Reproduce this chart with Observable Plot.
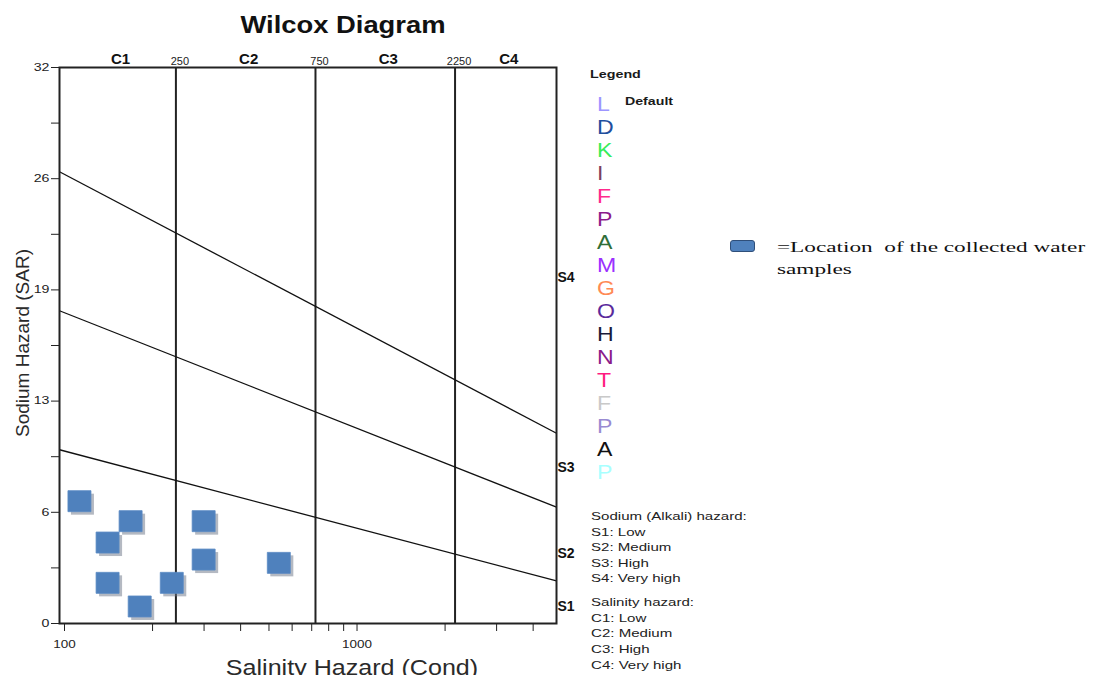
<!DOCTYPE html>
<html><head><meta charset="utf-8">
<script src="https://cdn.jsdelivr.net/npm/d3@7"></script>
<script src="https://cdn.jsdelivr.net/npm/@observablehq/plot@0.6"></script>
<style>
body{margin:0;background:#fff}
#wrap{position:relative;width:1097px;height:675px;overflow:hidden;font-family:"Liberation Sans",Arial,sans-serif;color:#222;background:#fff}
#wrap svg{position:absolute;left:0;top:0}
.t{position:absolute;line-height:1;white-space:pre}
</style>
</head><body><div id="wrap"></div>
<script>
// ---- data ----
const sampleEC = [117, 175, 146, 311, 311, 562, 146, 242, 188];
const sampleSAR = [7.04, 5.89, 4.66, 5.89, 3.68, 3.49, 2.34, 2.34, 0.98];

const xDomain = [100, 5000];
const yDomain = [0, 32];

const cBoundaries = [250, 750, 2250];
const cZoneNames = ["C1", "C2", "C3", "C4"];
const cZoneMid = [158, 433, 1300, 3354];

const sLineNames = ["S1/S2", "S2/S3", "S3/S4"];
const sLineLeft = [10.0, 18.0, 26.0];
const sLineRight = [2.45, 6.7, 10.95];

const sZoneNames = ["S1", "S2", "S3", "S4"];
const sZoneY = [1.0, 4.0, 9.0, 19.9];

const xTickValues = [100, 200, 300, 400, 500, 600, 700, 800, 900, 1000, 2000, 3000, 4000];
const xTickText = ["100", "", "", "", "", "", "", "", "", "1000", "", "", ""];
const yTickValues = [0, 3.2, 6.4, 9.6, 12.8, 16, 19.2, 22.4, 25.6, 28.8, 32];
const yTickText = ["0", "", "6", "", "13", "", "19", "", "26", "", "32"];

const legendLetters = ["L","D","K","I","F","P","A","M","G","O","H","N","T","F","P","A","P"];
const legendColors = ["#9d95ff","#1f4f9e","#35ec5a","#7c3f60","#ff2a8c","#8c1c8c","#2f6e38","#9b30ff","#ff8a55","#5a2a9c","#1a1a3a","#8a1a8a","#ff1a80","#c9c9c9","#998bd2","#111111","#a8ffff"];

const sodiumLines = ["Sodium (Alkali) hazard:", "S1: Low", "S2: Medium", "S3: High", "S4: Very high"];
const salinityLines = ["Salinity hazard:", "C1: Low", "C2: Medium", "C3: High", "C4: Very high"];

// ---- derived tables ----
const samples = sampleEC.map((ec, i) => ({ec, sar: sampleSAR[i]}));
const cZones = cZoneNames.map((name, i) => ({name, mid: cZoneMid[i]}));
const sLines = sLineNames.map((name, i) => ({name, left: sLineLeft[i], right: sLineRight[i]}));
const sZones = sZoneNames.map((name, i) => ({name, y: sZoneY[i]}));
const xLabelMap = new Map(xTickValues.map((v, i) => [v, xTickText[i]]));
const yLabelMap = new Map(yTickValues.map((v, i) => [v, yTickText[i]]));

const rectSymbol = {draw(ctx) { ctx.rect(-11.5, -10.5, 23, 21); }};

const svg = Plot.plot({
  width: 1097, height: 675,
  marginLeft: 59, marginRight: 541, marginTop: 67, marginBottom: 52,
  style: {fontFamily: "Liberation Sans, Arial, sans-serif", color: "#222", background: "transparent"},
  x: {type: "log", domain: xDomain},
  y: {domain: yDomain},
  marks: [
    Plot.ruleX(cBoundaries, {x: d => d, stroke: "#222", strokeWidth: 2}),
    Plot.link(sLines, {x1: () => xDomain[0], x2: () => xDomain[1], y1: "left", y2: "right", stroke: "#111", strokeWidth: 1.3}),
    Plot.frame({stroke: "#222", strokeWidth: 2}),
    Plot.axisX({ticks: xTickValues, tickFormat: d => xLabelMap.get(d), tickSize: 8, tickPadding: 9, dx: 5, fontSize: 10, label: null}),
    Plot.axisY({ticks: yTickValues, tickFormat: d => yLabelMap.get(d), tickSize: 8, tickPadding: 2, fontSize: 10.5, label: null}),
    Plot.dot(samples, {x: "ec", y: "sar", symbol: rectSymbol, r: 12, fill: "#6a7486", fillOpacity: 0.5, stroke: "none", dx: 3, dy: 3, ariaLabel: "shadow"}),
    Plot.dot(samples, {x: "ec", y: "sar", symbol: rectSymbol, r: 12, fill: "#4f81bd", stroke: "#5a8ac4", strokeWidth: 0.8}),
    Plot.text(cZones, {x: "mid", text: "name", frameAnchor: "top", dy: -14, dx: 3, fontSize: 15, fontWeight: "bold", fill: "#111", ariaLabel: "czone"}),
    Plot.text(cBoundaries, {x: d => d, text: d => String(d), frameAnchor: "top", dy: -10, dx: 4, fontSize: 11, fill: "#222", ariaLabel: "cbound"}),
    Plot.text(sZones, {y: "y", text: "name", frameAnchor: "right", dx: 18, fontSize: 14, fontWeight: "bold", fill: "#111"})
  ]
});

const wrap = document.getElementById("wrap");
wrap.appendChild(svg);

function stretch(sel, k) {
  svg.querySelectorAll(sel).forEach(t => t.setAttribute("transform", (t.getAttribute("transform") || "") + ` scale(${k},1)`));
}
stretch('g[aria-label="x-axis tick label"] text', 1.35);
stretch('g[aria-label="y-axis tick label"] text', 1.35);
stretch('g[aria-label="czone"] text', 1.15);
stretch('g[aria-label="cbound"] text', 1.15);
const sh = svg.querySelector('g[aria-label="shadow"]');
if (sh) sh.style.filter = "blur(1px)";

function addText(txt, x, y, o = {}) {
  const d = document.createElement("div");
  d.className = "t";
  d.textContent = txt;
  d.style.left = x + "px";
  d.style.top = y + "px";
  d.style.fontSize = (o.size || 11) + "px";
  d.style.fontWeight = o.weight || "normal";
  d.style.color = o.color || "#222";
  if (o.family) d.style.fontFamily = o.family;
  const sx = o.sx || 1;
  if (o.rotate) {
    d.style.transformOrigin = "50% 50%";
    d.style.transform = `translate(-50%,-50%) rotate(${o.rotate}deg)`;
  } else if (o.anchor === "middle") {
    d.style.transformOrigin = "50% 50%";
    d.style.transform = `translate(-50%,-50%) scaleX(${sx})`;
  } else {
    d.style.transformOrigin = "0 50%";
    d.style.transform = `translateY(-50%) scaleX(${sx})`;
  }
  wrap.appendChild(d);
  return d;
}

// titles
addText("Wilcox Diagram", 343, 24.5, {size: 23, weight: "bold", sx: 1.19, anchor: "middle", color: "#111"});
addText("Sodium Hazard (SAR)", 22, 343, {size: 19, rotate: -90, color: "#2a2a2a"});
addText("Salinity Hazard (Cond)", 351.5, 668, {size: 22, sx: 1.14, anchor: "middle", color: "#2a2a2a"});

// legend
addText("Legend", 590, 74, {size: 11, weight: "bold", sx: 1.3, color: "#1a1a1a"});
addText("Default", 625, 100.5, {size: 10.5, weight: "bold", sx: 1.35, color: "#1a1a1a"});
const letterY0 = 102.5, letterStep = 23.0;
legendLetters.forEach((L, i) => {
  addText(L, 597, letterY0 + i * letterStep, {size: 21, sx: 1.1, color: legendColors[i]});
});
sodiumLines.forEach((s, i) => addText(s, 591, 517 + i * 15.5, {size: 11.5, sx: 1.31, color: "#222"}));
salinityLines.forEach((s, i) => addText(s, 591, 603 + i * 15.7, {size: 11.5, sx: 1.31, color: "#222"}));

// sample legend
const box = document.createElement("div");
box.style.cssText = "position:absolute;left:730px;top:240px;width:23px;height:10px;background:#4f81bd;border:1.5px solid #2f4f7a;border-radius:3px";
wrap.appendChild(box);
addText("=Location  of the collected water", 777, 246.5, {size: 15, sx: 1.55, family: '"Liberation Serif","Times New Roman",serif', color: "#111"});
addText("samples", 777, 269, {size: 15, sx: 1.55, family: '"Liberation Serif","Times New Roman",serif', color: "#111"});
</script>
</body></html>
